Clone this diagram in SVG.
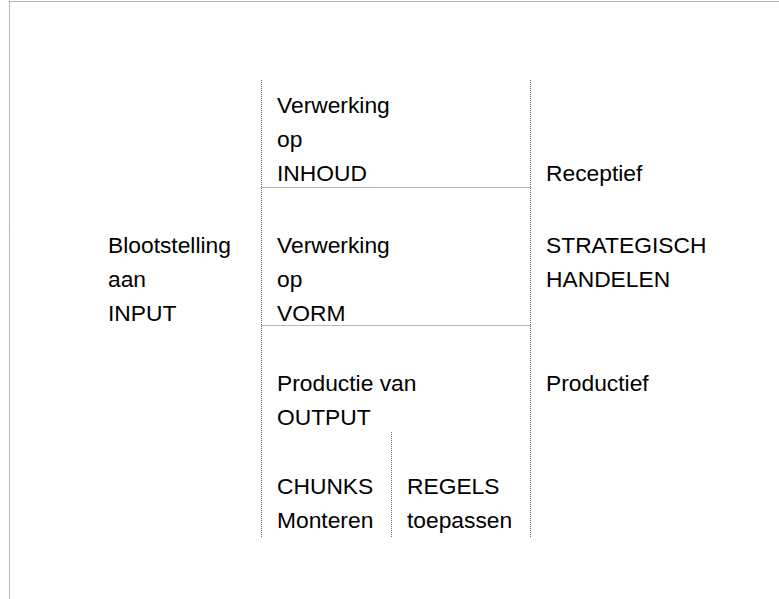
<svg xmlns="http://www.w3.org/2000/svg" width="779" height="599" viewBox="0 0 779 599">
<style>
text{font-family:"Liberation Sans",Arial,sans-serif;font-size:22.8px;fill:#000}
.d{stroke:#6e6e6e;stroke-width:1;stroke-dasharray:1 1;fill:none}
</style>
<rect width="779" height="599" fill="#fff"/>
<g id="connectors">
<line class="d" x1="9.5" y1="1.5" x2="779" y2="1.5"/>
<line class="d" x1="9.5" y1="1.5" x2="9.5" y2="599"/>
<line class="d" x1="261.5" y1="80" x2="261.5" y2="537"/>
<line class="d" x1="530.5" y1="80" x2="530.5" y2="537"/>
<line class="d" x1="261.5" y1="187.5" x2="530.5" y2="187.5"/>
<line class="d" x1="261.5" y1="325.5" x2="530.5" y2="325.5"/>
<line class="d" x1="391.5" y1="432" x2="391.5" y2="537"/>
</g>
<g id="input"><text x="108" y="253">Blootstelling</text><text x="108" y="287">aan</text><text x="108" y="321">INPUT</text></g>
<g id="inhoud"><text x="277" y="113">Verwerking</text><text x="277" y="147">op</text><text x="277" y="181">INHOUD</text></g>
<g id="vorm"><text x="277" y="253">Verwerking</text><text x="277" y="287">op</text><text x="277" y="321">VORM</text></g>
<g id="output"><text x="277" y="391">Productie van</text><text x="277" y="425">OUTPUT</text></g>
<g id="chunks"><text x="277" y="494">CHUNKS</text><text x="277" y="528">Monteren</text></g>
<g id="regels"><text x="407" y="494">REGELS</text><text x="407" y="528">toepassen</text></g>
<g id="receptief"><text x="546" y="181">Receptief</text></g>
<g id="strategisch"><text x="546" y="253">STRATEGISCH</text><text x="546" y="287">HANDELEN</text></g>
<g id="productief"><text x="546" y="391">Productief</text></g>
</svg>
